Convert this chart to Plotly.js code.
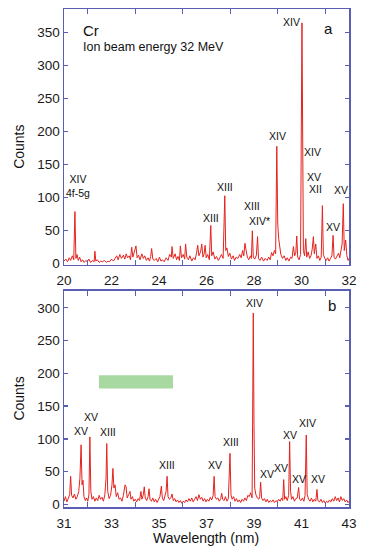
<!DOCTYPE html>
<html>
<head>
<meta charset="utf-8">
<script src="https://cdn.plot.ly/plotly-3.0.1.min.js"></script>
<style>html,body{margin:0;padding:0;background:#fff;}#chart{width:367px;height:550px;}</style>
</head>
<body>
<div id="chart"></div>
<script>
// Panel a: 20–32 nm
const wavelengthA = [20.00,20.08,20.15,20.22,20.28,20.35,20.41,20.46,20.50,20.55,20.60,20.66,20.72,20.78,20.85,20.92,20.98,21.05,21.12,21.20,21.27,21.30,21.34,21.40,21.48,21.55,21.62,21.70,21.78,21.85,21.92,22.00,22.08,22.15,22.22,22.28,22.35,22.42,22.50,22.56,22.62,22.68,22.75,22.80,22.85,22.90,22.96,23.03,23.08,23.14,23.20,23.28,23.34,23.40,23.47,23.54,23.60,23.65,23.69,23.74,23.80,23.88,23.95,24.02,24.08,24.15,24.22,24.30,24.38,24.45,24.52,24.55,24.60,24.68,24.74,24.80,24.86,24.90,24.95,25.02,25.08,25.12,25.17,25.24,25.30,25.38,25.45,25.52,25.58,25.63,25.68,25.75,25.80,25.85,25.90,25.94,25.99,26.05,26.12,26.18,26.22,26.28,26.35,26.42,26.50,26.57,26.63,26.70,26.77,26.81,26.86,26.92,26.98,27.05,27.12,27.18,27.25,27.32,27.40,27.46,27.52,27.57,27.62,27.66,27.72,27.78,27.85,27.89,27.93,27.97,28.03,28.10,28.15,28.19,28.25,28.32,28.40,28.47,28.55,28.62,28.68,28.74,28.80,28.86,28.91,28.96,29.00,29.04,29.08,29.13,29.20,29.27,29.34,29.40,29.47,29.54,29.60,29.66,29.71,29.76,29.80,29.84,29.90,29.96,30.02,30.05,30.08,30.13,30.18,30.22,30.28,30.34,30.40,30.45,30.50,30.54,30.60,30.65,30.71,30.77,30.83,30.88,30.92,30.98,31.04,31.10,31.16,31.22,31.28,31.33,31.37,31.43,31.50,31.56,31.61,31.66,31.71,31.76,31.80,31.86,31.91,31.96,32.00];
const countsA = [4,7,3,9,5,12,6,79,8,14,5,10,3,6,2,5,3,7,2,5,3,19,4,6,2,4,3,5,2,4,3,7,4,9,12,6,14,8,13,7,15,9,12,6,25,10,18,27,9,13,6,15,8,12,5,9,4,11,23,7,5,8,3,10,4,6,3,9,5,14,10,26,8,15,6,11,5,27,9,14,7,30,10,6,12,4,9,6,16,28,12,18,30,10,15,28,9,14,6,58,12,18,7,11,5,9,14,8,103,20,24,11,16,7,12,5,10,8,14,9,20,12,31,22,10,6,12,8,50,10,7,13,41,8,5,10,4,8,5,10,6,17,12,20,15,178,60,38,30,14,8,12,5,9,4,10,8,26,12,17,42,10,6,14,365,200,20,12,38,10,18,8,12,22,41,15,30,8,12,5,10,88,14,8,5,9,4,8,12,43,10,7,12,16,9,18,30,91,20,36,12,5,8];

// Panel b: 31–43 nm
const wavelengthB = [31.00,31.06,31.12,31.18,31.24,31.28,31.32,31.38,31.44,31.50,31.56,31.62,31.67,31.72,31.76,31.80,31.84,31.90,31.95,32.00,32.05,32.09,32.13,32.18,32.24,32.30,32.36,32.42,32.48,32.54,32.60,32.66,32.72,32.77,32.80,32.84,32.90,32.96,33.02,33.06,33.10,33.15,33.20,33.26,33.32,33.38,33.44,33.50,33.54,33.57,33.61,33.66,33.72,33.78,33.82,33.88,33.94,34.00,34.06,34.12,34.18,34.24,34.28,34.34,34.38,34.42,34.48,34.54,34.58,34.62,34.68,34.74,34.80,34.86,34.92,34.98,35.04,35.10,35.14,35.20,35.26,35.30,35.34,35.38,35.44,35.50,35.55,35.60,35.66,35.72,35.78,35.84,35.90,35.96,36.02,36.08,36.14,36.20,36.26,36.32,36.38,36.44,36.50,36.56,36.62,36.68,36.74,36.80,36.86,36.92,36.98,37.04,37.10,37.16,37.22,37.28,37.32,37.36,37.42,37.48,37.54,37.60,37.64,37.68,37.74,37.80,37.86,37.92,37.99,38.03,38.08,38.14,38.20,38.26,38.32,38.38,38.44,38.50,38.56,38.62,38.68,38.74,38.80,38.86,38.92,38.97,39.00,39.03,39.08,39.14,39.20,39.24,39.28,39.32,39.38,39.44,39.50,39.56,39.62,39.68,39.74,39.80,39.86,39.92,39.98,40.04,40.10,40.16,40.21,40.25,40.29,40.34,40.40,40.46,40.50,40.54,40.58,40.64,40.70,40.76,40.82,40.88,40.92,40.98,41.04,41.10,41.15,41.20,41.24,41.30,41.36,41.42,41.48,41.54,41.60,41.65,41.69,41.76,41.82,41.88,41.94,42.00,42.06,42.12,42.18,42.24,42.30,42.36,42.42,42.48,42.54,42.60,42.66,42.72,42.78,42.84,42.90,42.96,43.00];
const countsB = [5,12,4,9,15,43,14,10,16,8,12,20,40,91,30,37,12,6,10,5,15,103,20,8,12,5,10,6,14,8,11,5,15,40,93,20,9,14,30,55,25,30,12,18,8,10,5,14,25,30,28,10,15,20,8,12,5,8,4,9,6,20,8,15,27,10,6,12,24,8,5,10,4,8,3,9,12,28,10,6,15,20,43,12,8,10,16,6,9,4,7,3,6,2,5,3,7,4,9,5,10,4,8,12,6,15,8,11,5,9,4,8,5,11,7,14,43,12,8,10,5,9,17,8,6,12,5,9,78,15,8,12,5,9,4,7,3,8,5,10,6,14,12,18,10,292,120,25,15,10,8,12,34,10,6,9,4,8,3,6,4,7,3,6,4,8,5,10,6,38,8,12,6,14,96,20,8,12,5,9,10,26,8,6,10,5,14,106,15,8,5,10,4,8,5,23,6,4,8,3,6,2,5,3,7,4,9,5,12,6,10,4,12,6,9,4,7,3,5];

// Ion-stage labels
const labelTextA = ["XIV<br>4f-5g","XIII","XIII","XIII","XIV*","XIV","XIV","XIV","XV","XII","XV","XV"];
const labelXA = [20.6,26.18,26.78,27.93,28.25,29.0,29.59,30.45,30.53,30.57,31.34,31.68];
const labelYA = [118,69,116,87,65,193,366,169,132,114,55,111];
const labelTextB = ["XIV","XV","XV","XIII","XIII","XV","XIII","XV","XV","XV","XIV","XV","XV"];
const labelXB = [39.0,31.72,32.14,32.84,35.35,37.36,38.02,39.53,40.14,40.5,41.24,40.89,41.7];
const labelYB = [307,112,134,110,60,60,95,47,56,106,124,39,39];

// Green band (panel b)
const bandX = [32.47, 35.59];
const bandY = [177, 197];

const AX = '#5b5fb3';
const RED = '#e3231f';
const FONT = 'Liberation Sans, Arial, sans-serif';

const traces = [
  {x: wavelengthA, y: countsA, xaxis: 'x', yaxis: 'y', mode: 'lines', line: {color: RED, width: 1}, hoverinfo: 'skip'},
  {x: wavelengthB, y: countsB, xaxis: 'x2', yaxis: 'y2', mode: 'lines', line: {color: RED, width: 1}, hoverinfo: 'skip'}
];

function xax(range, tick0, anchor) {
  return {
    range: range, anchor: anchor, tick0: tick0, dtick: 2, ticks: '',
    ticklabelstandoff: 3,
    showline: true, linecolor: AX, linewidth: 1.5, mirror: 'ticks',
    showgrid: false, zeroline: false,
    tickfont: {family: FONT, size: 13.5, color: '#1a1a1a'},
    minor: {dtick: 1, ticks: 'inside', ticklen: 5, tickcolor: AX, tickwidth: 1.3, showgrid: false}
  };
}
function yax(range, domain, anchor) {
  return {
    range: range, domain: domain, anchor: anchor, dtick: 50, tick0: 0,
    ticks: 'inside', ticklen: 4, tickcolor: AX, tickwidth: 1.3,
    showline: true, linecolor: AX, linewidth: 1.5, mirror: 'ticks',
    showgrid: false, zeroline: false,
    tickfont: {family: FONT, size: 13.5, color: '#1a1a1a'}
  };
}

const L = 64, R = 18, T = 9, B = 42.5, W = 367, H = 550;
const pw = W - L - R, ph = H - T - B;
const px = v => (v - L) / pw;
const py = v => (H - B - v) / ph;

const annotations = [];
labelTextA.forEach((t, i) => annotations.push({x: labelXA[i], y: labelYA[i], xref: 'x', yref: 'y', text: t, showarrow: false, font: {family: FONT, size: 10.5, color: '#111'}}));
labelTextB.forEach((t, i) => annotations.push({x: labelXB[i], y: labelYB[i], xref: 'x2', yref: 'y2', text: t, showarrow: false, font: {family: FONT, size: 10.5, color: '#111'}}));
annotations.push(
  {x: 20.72, y: 353, xref: 'x', yref: 'y', text: 'Cr', showarrow: false, xanchor: 'left', yanchor: 'middle', font: {family: FONT, size: 15, color: '#111'}},
  {x: 20.72, y: 329, xref: 'x', yref: 'y', text: 'Ion beam energy 32 MeV', showarrow: false, xanchor: 'left', yanchor: 'middle', font: {family: FONT, size: 12.5, color: '#111'}},
  {x: 31.13, y: 356, xref: 'x', yref: 'y', text: 'a', showarrow: false, font: {family: FONT, size: 15, color: '#111'}},
  {x: 42.27, y: 303, xref: 'x2', yref: 'y2', text: 'b', showarrow: false, font: {family: FONT, size: 15, color: '#111'}},
  {x: px(19), y: py(147), xref: 'paper', yref: 'paper', xanchor: 'center', yanchor: 'middle', text: 'Counts', showarrow: false, textangle: -90, font: {family: FONT, size: 14, color: '#111'}},
  {x: px(19), y: py(399), xref: 'paper', yref: 'paper', xanchor: 'center', yanchor: 'middle', text: 'Counts', showarrow: false, textangle: -90, font: {family: FONT, size: 14, color: '#111'}},
  {x: px(206), y: py(539), xref: 'paper', yref: 'paper', xanchor: 'center', yanchor: 'middle', text: 'Wavelength (nm)', showarrow: false, font: {family: FONT, size: 14, color: '#111'}}
);

const layout = {
  width: W, height: H,
  margin: {l: L, r: R, t: T, b: B, pad: 0},
  paper_bgcolor: '#fff', plot_bgcolor: '#fff',
  showlegend: false,
  font: {family: FONT},
  xaxis: xax([20, 32], 20, 'y'),
  yaxis: yax([-1.5, 386], [0.4865, 1], 'x'),
  xaxis2: xax([31, 43], 31, 'y2'),
  yaxis2: yax([-3.8, 326], [0, 0.4343], 'x2'),
  shapes: [{type: 'rect', xref: 'x2', yref: 'y2', x0: bandX[0], x1: bandX[1], y0: bandY[0], y1: bandY[1], fillcolor: '#a8d9a2', line: {width: 0}, layer: 'below'}],
  annotations: annotations
};

Plotly.newPlot('chart', traces, layout, {staticPlot: true, displayModeBar: false});
</script>
</body>
</html>
